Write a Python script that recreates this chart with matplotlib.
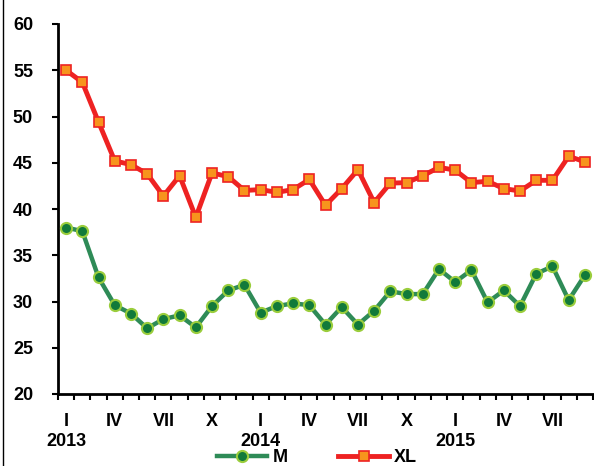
import numpy as np
import matplotlib
matplotlib.use('Agg')
import matplotlib.pyplot as plt
from matplotlib.lines import Line2D

plt.rcParams['font.family'] = ['Liberation Sans', 'DejaVu Sans']
plt.rcParams['font.weight'] = 'bold'

# monthly data, Jan 2013 .. Sep 2015
m_vals = [38.0, 37.6, 32.6, 29.6, 28.7, 27.1, 28.1, 28.5, 27.2, 29.5, 31.2, 31.8,
          28.8, 29.5, 29.8, 29.6, 27.5, 29.4, 27.5, 29.0, 31.1, 30.8, 30.8, 33.5,
          32.1, 33.4, 29.9, 31.2, 29.5, 33.0, 33.8, 30.15, 32.85]
xl_vals = [55.0, 53.7, 49.4, 45.2, 44.8, 43.8, 41.4, 43.6, 39.1, 43.9, 43.5, 42.0,
           42.1, 41.8, 42.1, 43.2, 40.4, 42.2, 44.25, 40.7, 42.8, 42.85, 43.6, 44.5,
           44.2, 42.85, 43.0, 42.2, 41.95, 43.1, 43.1, 45.7, 45.1]
quarters = ['I', 'IV', 'VII', 'X']
years = ['2013', '2014', '2015']
series_names = ['M', 'XL']

n = len(m_vals)
x = np.arange(n)

fig = plt.figure(figsize=(5.94, 4.66), dpi=100)
ax = fig.add_axes([58 / 594, 1 - 394 / 466, 535 / 594, 370 / 466])

green_line = '#2e8b57'
green_fill = '#117a3a'
green_edge = '#9acd3c'
red_line = '#ee2222'
orange = '#f7941d'

m_style = dict(color=green_line, lw=3.2, marker='o', ms=8,
               markerfacecolor=green_fill, markeredgecolor=green_edge, mew=1.5)
xl_style = dict(color=red_line, lw=3.5, marker='s', ms=6.5,
                markerfacecolor=orange, markeredgecolor=red_line, mew=1.2)

ax.plot(x, m_vals, solid_joinstyle='round', zorder=3, **m_style)
ax.plot(x, xl_vals, solid_joinstyle='round', zorder=3, **xl_style)

ax.set_xlim(-0.5, n - 0.5)
ax.set_ylim(20, 60)
ax.set_yticks(np.arange(20, 61, 5))

# quarter labels, year under January
lab_pos = np.arange(0, n, 3)
labels = []
for i in lab_pos:
    q = quarters[(i // 3) % 4]
    if i % 12 == 0:
        q = q + '\n' + years[i // 12]
    labels.append(q)
ax.set_xticks(lab_pos)
ax.set_xticklabels(labels, fontsize=13, fontweight='bold', linespacing=1.2)
ax.set_xticks(np.arange(-0.5, n, 1), minor=True)
ax.tick_params(axis='x', which='major', length=0, pad=14)
ax.tick_params(axis='x', which='minor', length=4, width=1.5, direction='out')
ax.tick_params(axis='y', length=4, width=1.5, direction='out', pad=14, labelsize=13)
for lab in ax.get_yticklabels():
    lab.set_fontweight('bold')

for s in ['top', 'right']:
    ax.spines[s].set_visible(False)
for s in ['left', 'bottom']:
    ax.spines[s].set_linewidth(2)

# left border of the frame
fig.add_artist(Line2D([3 / 594, 3 / 594], [0, 1], color='black', lw=1))

handles = [Line2D([], [], **m_style), Line2D([], [], **xl_style)]
fig.legend(handles, series_names, loc='center', ncol=2, frameon=False,
           bbox_to_anchor=(317 / 594, 1 - 458 / 466), handlelength=2.8,
           handletextpad=0.3, columnspacing=2.8,
           prop={'weight': 'bold', 'size': 13})

fig.savefig('out.png', dpi=100)
